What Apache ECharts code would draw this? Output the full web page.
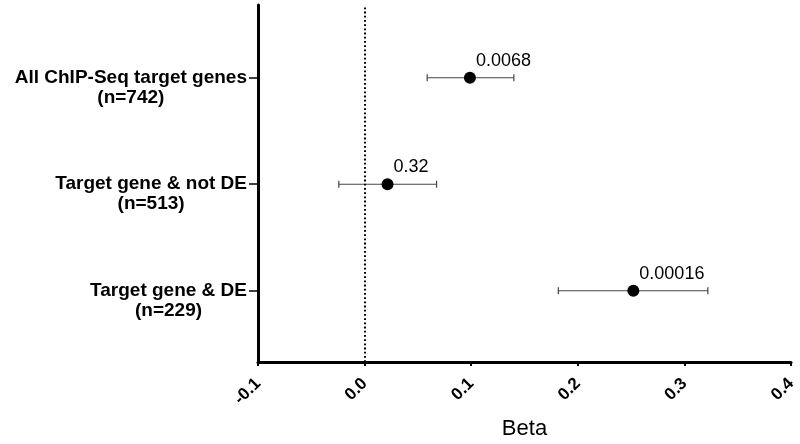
<!DOCTYPE html>
<html>
<head>
<meta charset="utf-8">
<script src="https://cdn.jsdelivr.net/npm/echarts@6/dist/echarts.min.js"></script>
<style>html,body{margin:0;padding:0;background:#fff}#c{width:800px;height:444px}</style>
</head>
<body>
<div id="c"></div>
<script>
// Data
var categories = ['All ChIP-Seq target genes', 'Target gene & not DE', 'Target gene & DE'];
var nCounts = ['(n=742)', '(n=513)', '(n=229)'];
var yPos = [3, 2, 1];
var estimates = [0.0988, 0.0215, 0.2521];
var lowers = [0.0587, -0.0242, 0.1817];
var uppers = [0.1400, 0.0675, 0.3220];
var pLabels = ['0.0068', '0.32', '0.00016'];
var xTicks = [-0.1, 0.0, 0.1, 0.2, 0.3, 0.4];

var FONT = '"Liberation Sans", Arial, sans-serif';

var errData = [], ptData = [];
for (var i = 0; i < categories.length; i++) {
  errData.push([lowers[i], uppers[i], yPos[i]]);
  ptData.push([estimates[i], yPos[i], pLabels[i]]);
}
var labelMap = {};
for (var j = 0; j < categories.length; j++) labelMap[yPos[j]] = j;

var chart = echarts.init(document.getElementById('c'));
chart.setOption({
  animation: false,
  backgroundColor: '#fff',
  grid: { left: 258, right: 9, top: 5, bottom: 82, containLabel: false, outerBoundsMode: 'none' },
  xAxis: {
    type: 'value',
    min: xTicks[0], max: xTicks[xTicks.length - 1], interval: 0.1,
    name: 'Beta', nameLocation: 'middle', nameGap: 56,
    nameTextStyle: { fontFamily: FONT, fontSize: 22, color: '#000' },
    axisLine: { show: true, onZero: false, lineStyle: { color: '#000', width: 3 } },
    axisTick: { show: true, length: 4, lineStyle: { color: '#000', width: 2 } },
    splitLine: { show: false },
    axisLabel: {
      rotate: 45, margin: 19, color: '#000', fontFamily: FONT, fontSize: 17, fontWeight: 'bold',
      formatter: function (v) { var r = Math.round(v * 10) / 10; if (Math.abs(r) < 1e-9) r = 0; return r.toFixed(1); }
    }
  },
  yAxis: {
    type: 'value', min: 0.331, max: 3.683,
    axisLine: { show: true, onZero: false, lineStyle: { color: '#000', width: 3 } },
    axisTick: { show: true, length: 9, customValues: yPos, lineStyle: { color: '#000', width: 1.5 } },
    splitLine: { show: false },
    axisLabel: {
      customValues: yPos, margin: 11, padding: [20, 0, 0, 0],
      formatter: function (v) {
        var k = labelMap[Math.round(v)];
        return '{a|' + categories[k] + '}\n{b|' + nCounts[k] + '}';
      },
      rich: {
        a: { fontFamily: FONT, fontSize: 19, fontWeight: 'bold', color: '#000', lineHeight: 20, align: 'left' },
        b: { fontFamily: FONT, fontSize: 19, fontWeight: 'bold', color: '#000', lineHeight: 20, align: 'center' }
      }
    }
  },
  series: [
    {
      type: 'custom',
      silent: true,
      data: errData,
      encode: { x: [0, 1], y: 2 },
      renderItem: function (params, api) {
        var y = api.value(2);
        var p1 = api.coord([api.value(0), y]);
        var p2 = api.coord([api.value(1), y]);
        var h = 3.5;
        var st = { stroke: '#444', lineWidth: 1.2 };
        return {
          type: 'group',
          children: [
            { type: 'line', shape: { x1: p1[0], y1: p1[1], x2: p2[0], y2: p2[1] }, style: st },
            { type: 'line', shape: { x1: p1[0], y1: p1[1] - h, x2: p1[0], y2: p1[1] + h }, style: st },
            { type: 'line', shape: { x1: p2[0], y1: p2[1] - h, x2: p2[0], y2: p2[1] + h }, style: st }
          ]
        };
      },
      z: 2
    },
    {
      type: 'scatter',
      data: ptData,
      symbol: 'circle',
      symbolSize: 12,
      itemStyle: { color: '#000', opacity: 1 },
      label: {
        show: true, position: [12, -20], align: 'left', verticalAlign: 'top',
        fontFamily: FONT, fontSize: 18, color: '#000',
        formatter: function (p) { return p.value[2]; }
      },
      markLine: {
        silent: true, symbol: ['none', 'none'], label: { show: false },
        lineStyle: { color: '#000', width: 2, type: [1.8, 2.4], opacity: 1 },
        emphasis: { disabled: true },
        data: [{ xAxis: 0 }]
      },
      z: 3
    }
  ]
});
</script>
</body>
</html>
